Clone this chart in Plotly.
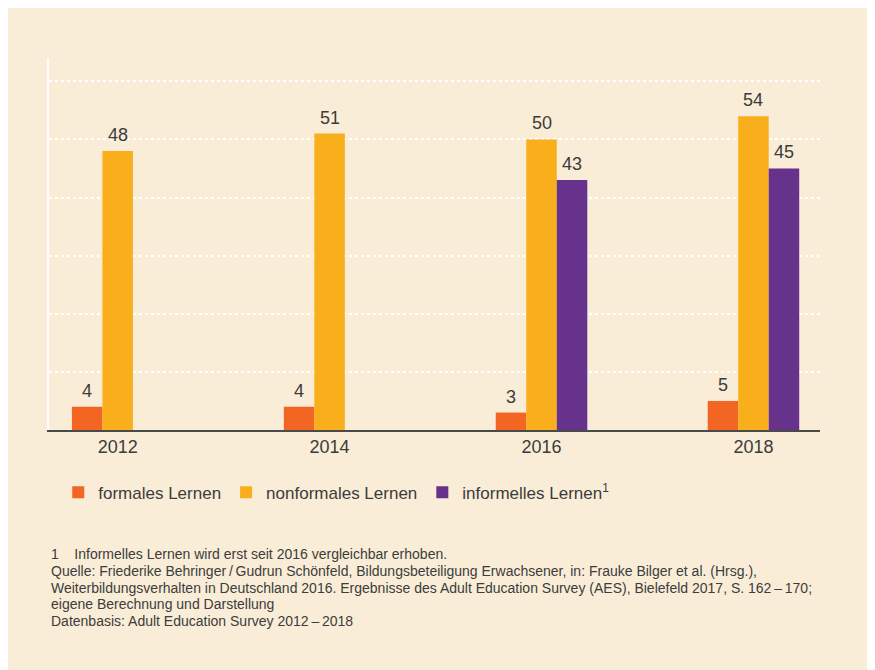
import plotly.graph_objects as go

# jahre und werte (in prozent)
jahre = ["2012", "2014", "2016", "2018"]
formal = [4, 4, 3, 5]
nonformal = [48, 51, 50, 54]
informell = [None, None, 43, 45]

serien = ["formales Lernen", "nonformales Lernen", "informelles Lernen<sup>1</sup>"]
farben = ["#F26522", "#F9AE1B", "#66328C"]

fussnote = [
    "1\u00a0\u00a0\u00a0\u00a0Informelles Lernen wird erst seit 2016 vergleichbar erhoben.",
    "Quelle: Friederike Behringer\u2009/\u2009Gudrun Schönfeld, Bildungsbeteiligung Erwachsener, in: "
    "Frauke Bilger et al. (Hrsg.),",
    "Weiterbildungsverhalten in Deutschland 2016. Ergebnisse des Adult Education Survey (AES), "
    "Bielefeld 2017, S. 162\u2009\u2013\u2009170;",
    "eigene Berechnung und Darstellung",
    "Datenbasis: Adult Education Survey 2012\u2009\u2013\u20092018",
]

beige = "#F9EDD7"
textfarbe = "#3C3C3C"
schrift = "Liberation Sans, Arial, sans-serif"
balken_px = 30.5  # breite eines balkens in pixeln

fig = go.Figure()
for i, (name, werte, farbe) in enumerate(zip(serien, [formal, nonformal, informell], farben)):
    fig.add_trace(go.Bar(
        x=jahre,
        y=werte,
        name=name,
        marker=dict(color=farbe, line=dict(width=0)),
    ))
    # werte ueber den balken, etwas mehr abstand als bei textposition outside
    # (x als kategorie-index, sonst wird "2012" als zahl gelesen)
    for k, wert in enumerate(werte):
        if wert is None:
            continue
        fig.add_annotation(x=k, y=wert, text=str(wert), showarrow=False,
                           xshift=(i - 1) * balken_px, yshift=4, yanchor="bottom",
                           font=dict(size=18, color=textfarbe, family=schrift))

# fussnote zeilenweise, damit der zeilenabstand passt
for i, zeile in enumerate(fussnote):
    fig.add_annotation(text=zeile, xref="paper", yref="paper",
                       x=0, y=(422 - 546 - i * 16.8) / 372,
                       xanchor="left", yanchor="middle", align="left", showarrow=False,
                       font=dict(size=14, color=textfarbe, family=schrift))

fig.update_layout(
    width=875, height=662,
    margin=dict(l=41, r=63, t=50, b=240),
    paper_bgcolor=beige,
    plot_bgcolor=beige,
    barmode="group",
    bargap=0.568,
    bargroupgap=0,
    font=dict(family=schrift, color=textfarbe),
    showlegend=True,
    legend=dict(orientation="h", x=0.012, y=-0.12, xanchor="left", yanchor="top",
                font=dict(size=17, color=textfarbe), bgcolor="rgba(0,0,0,0)",
                itemclick=False),
)

fig.update_xaxes(
    type="category",
    range=[-0.324, 3.314],
    showline=True, linecolor="#4A4A4A", linewidth=1.5,
    ticks="", tickfont=dict(size=18, color=textfarbe),
    showgrid=False,
)
fig.update_yaxes(
    range=[0, 64],
    dtick=10,
    showticklabels=False,
    showgrid=True, gridcolor="white", gridwidth=1.5, griddash="dot",
    zeroline=False,
    showline=True, linecolor="white", linewidth=1.5,
)

fig.write_html("out.html")
